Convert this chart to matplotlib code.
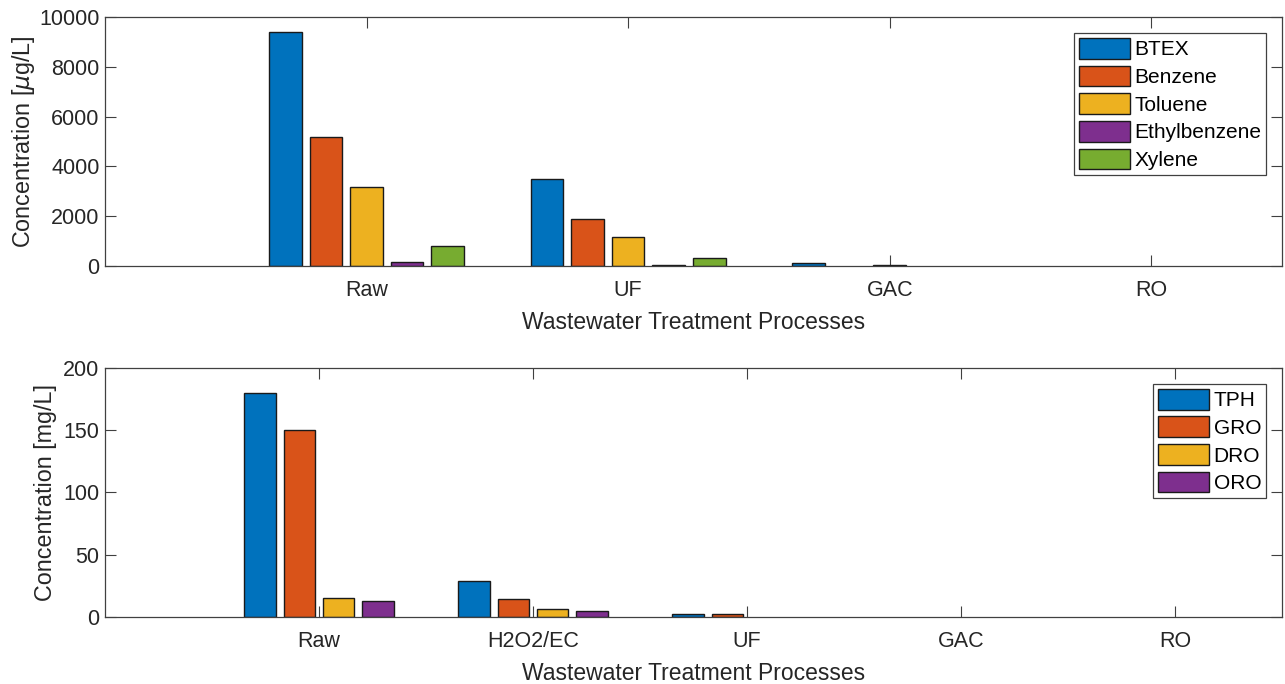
import numpy as np
import matplotlib.pyplot as plt

plt.rcParams['font.family'] = ['Liberation Sans', 'DejaVu Sans']

# top panel: BTEX in ug/L
stages_top = ['Raw', 'UF', 'GAC', 'RO']
btex_names = ['BTEX', 'Benzene', 'Toluene', 'Ethylbenzene', 'Xylene']
btex = [9400, 3500, 130, 0]
benzene = [5200, 1900, 0, 0]
toluene = [3180, 1150, 30, 0]
ethylbenzene = [160, 45, 0, 0]
xylene = [800, 320, 0, 0]

# bottom panel: TPH in mg/L
stages_bot = ['Raw', 'H2O2/EC', 'UF', 'GAC', 'RO']
tph_names = ['TPH', 'GRO', 'DRO', 'ORO']
tph = [180, 28.7, 2.2, 0, 0]
gro = [150, 14.8, 2.0, 0, 0]
dro = [15.6, 6.2, 0, 0, 0]
oro = [12.6, 5.1, 0, 0, 0]

colors = ['#0072BD', '#D95319', '#EDB120', '#7E2F8E', '#77AC30']
txt = '#262626'
spine = '#404040'

fig = plt.figure(figsize=(12.85, 6.84), dpi=100)
ax1 = fig.add_axes([0.0817, 0.611, 0.916, 0.364])
ax2 = fig.add_axes([0.0817, 0.098, 0.916, 0.364])


def grouped(ax, stages, series, names, pitch, width):
    x = np.arange(1, len(stages) + 1)
    n = len(series)
    for i, vals in enumerate(series):
        off = (i - (n - 1) / 2) * pitch
        v = np.array(vals, dtype=float)
        v[v == 0] = np.nan  # matlab draws nothing for zero bars
        ax.bar(x + off, v, width, color=colors[i], edgecolor='#1a1a1a',
               linewidth=1.0, label=names[i], zorder=2)
    ax.set_xticks(x)
    ax.set_xticklabels(stages)
    ax.set_xlim(0, len(stages) + 0.5)
    ax.tick_params(axis='both', direction='in', length=8, width=0.8,
                   top=True, right=True, colors=spine, labelcolor=txt,
                   labelsize=15.5)
    ax.tick_params(axis='x', pad=10)
    ax.tick_params(axis='y', pad=4)
    for s in ax.spines.values():
        s.set_color(spine)
        s.set_linewidth(0.9)
    ax.set_xlabel('Wastewater Treatment Processes', fontsize=16.5, color=txt,
                  labelpad=7)
    leg = ax.legend(loc='upper right', fontsize=15, handlelength=2.45,
                    handleheight=1.15, handletextpad=0.2, labelspacing=0.3,
                    borderpad=0.25, borderaxespad=0.75, fancybox=False,
                    framealpha=1, edgecolor=spine)
    leg.get_frame().set_linewidth(0.9)


grouped(ax1, stages_top, [btex, benzene, toluene, ethylbenzene, xylene],
        btex_names, 0.155, 0.125)
ax1.set_ylim(0, 10000)
ax1.set_yticks(np.arange(0, 10001, 2000))
ax1.set_ylabel(r'Concentration [$\mu$g/L]', fontsize=16.8, color=txt)
ax1.yaxis.set_label_coords(-0.058, 0.5)

grouped(ax2, stages_bot, [tph, gro, dro, oro], tph_names, 0.184, 0.147)
ax2.set_ylim(0, 200)
ax2.set_yticks(np.arange(0, 201, 50))
ax2.set_ylabel('Concentration [mg/L]', fontsize=16.8, color=txt)
ax2.yaxis.set_label_coords(-0.041, 0.5)

fig.savefig('out.png', dpi=100, facecolor='white')
